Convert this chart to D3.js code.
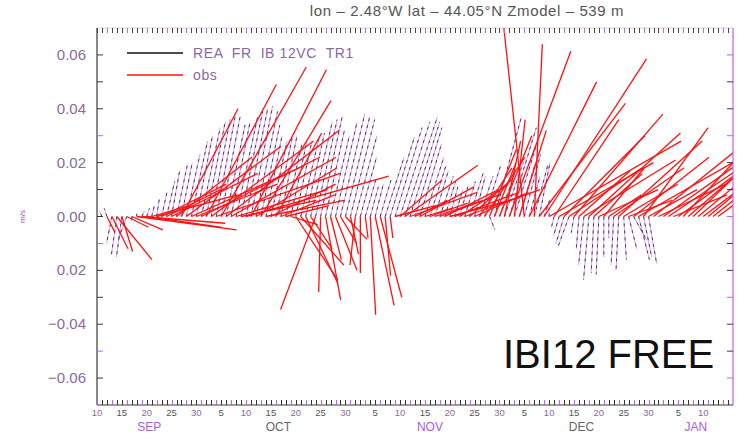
<!DOCTYPE html>
<html>
<head>
<meta charset="utf-8">
<script src="https://cdn.jsdelivr.net/npm/d3@7"></script>
<style>
body { margin: 0; background: #fff; }
svg { display: block; font-family: "Liberation Sans", Arial, sans-serif; }
</style>
</head>
<body>
<div id="chart"></div>
<script>
// ---- data (m/s, one stick per day) ----
var startDate = new Date(Date.UTC(2013, 8, 10));   // 10 Sep
var endDate = new Date(Date.UTC(2013, 8, 10 + 128)); // ~16 Jan

// model (REA FR IB 12VC TR1): first stick on day 1 after startDate
var modelFirstDay = 1;
var modelU = [-0.001,-0.001,-0.002,-0.002,-0.002,-0.003,0.000,0.000,0.001,0.001,
  0.001,0.001,0.002,0.003,0.003,0.004,0.004,0.005,0.006,0.006,
  0.007,0.007,0.007,0.007,0.007,0.007,0.007,0.008,0.008,0.008,
  0.008,0.008,0.007,0.006,0.006,0.006,0.006,0.006,0.006,0.006,
  0.007,0.007,0.008,0.008,0.008,0.007,0.007,0.008,0.009,0.009,
  0.009,0.008,0.006,0.004,0.003,0.003,0.004,0.007,0.009,0.010,
  0.011,0.012,0.011,0.010,0.008,0.007,0.006,0.005,0.005,0.004,
  0.003,0.003,0.003,0.004,0.005,0.004,0.005,0.006,0.002,0.010,
  0.006,0.007,0.010,0.008,0.006,0.006,0.004,0.005,0.004,0.002,
  0.000,-0.001,-0.002,-0.003,-0.004,-0.001,-0.001,-0.002,-0.002,-0.001,
  -0.001,0.000,0.000,-0.001,-0.001,0.001,0.003,0.005,0.004,0.003,0.003];
var modelV = [0.002,0.003,-0.010,-0.014,-0.015,-0.008,-0.002,0.001,0.002,0.003,
  0.004,0.0065,0.009,0.013,0.017,0.019,0.020,0.023,0.028,0.030,
  0.033,0.035,0.036,0.037,0.037,0.034,0.035,0.037,0.039,0.040,
  0.041,0.039,0.034,0.030,0.028,0.029,0.030,0.027,0.028,0.028,
  0.030,0.031,0.035,0.036,0.037,0.032,0.030,0.035,0.038,0.037,
  0.036,0.030,0.022,0.014,0.011,0.012,0.0135,0.022,0.0295,0.033,
  0.035,0.037,0.035,0.033,0.027,0.022,0.019,0.017,0.015,0.013,
  0.011,0.010,0.011,0.013,0.016,0.015,0.015,0.019,-0.005,0.037,
  0.017,0.020,0.033,0.026,0.020,0.023,0.015,0.019,0.020,0.006,
  0.003,-0.004,-0.007,-0.010,-0.011,-0.006,-0.012,-0.018,-0.0235,-0.021,
  -0.0215,-0.015,-0.008,-0.018,-0.020,-0.016,-0.012,-0.009,-0.016,-0.015,-0.0175];

// observations: first stick on day 2
var obsFirstDay = 2;
var obsU = [0.003,0.006,0.013,0.004,0.008,0.0115,0.037,0.031,0.028,
  0.014,0.030,0.024,0.020,0.032,0.028,0.021,0.035,0.040,0.030,
  0.044,0.026,0.038,0.046,0.0316,0.042,0.039,0.034,0.028,0.053,
  0.028,0.030,0.026,0.029,0.024,0.017,0.020,0.016,0.010,0.0156,
  0.016,0.012,0.008,-0.013,-0.0007,0.0056,0.004,0.008,0.006,0.008,
  0.003,-0.002,0.000,0.001,0.002,0.007,0.008,0.002,0.001,0.015,
  0.0156,0.027,0.025,0.012,0.020,0.010,0.014,0.018,0.022,0.020,
  0.026,0.024,0.018,0.028,0.016,0.020,0.012,0.015,0.010,0.008,
  0.012,0.006,0.0228,0.004,0.010,-0.0076,0.025,0.003,0.032,0.038,
  0.049,0.024,0.035,0.030,0.027,0.033,0.019,0.034,0.034,0.018,
  0.022,0.015,0.012,0.026,0.031,0.020,0.016,0.028,0.035,0.024,
  0.018,0.040,0.025,0.034,0.028,0.020,0.030,0.026,0.022,0.024,
  0.018,0.016,0.012,0.010,0.008];
var obsV = [-0.006,-0.012,-0.016,-0.013,-0.004,-0.005,-0.005,-0.0025,-0.004,
  0.004,0.008,0.012,0.010,0.016,0.022,0.040,0.026,0.018,0.012,
  0.022,0.049,0.028,0.016,0.0555,0.032,0.022,0.010,0.006,0.015,
  0.0545,0.018,0.043,0.006,0.012,0.031,0.008,0.004,-0.003,-0.0235,
  -0.018,-0.025,-0.012,-0.0345,-0.028,-0.031,-0.016,-0.020,-0.010,-0.0085,
  -0.014,-0.018,-0.021,-0.008,-0.0365,-0.033,-0.030,-0.022,-0.008,0.004,
  0.0136,0.019,0.009,0.006,0.011,0.003,0.005,0.006,0.008,0.010,
  0.007,0.009,0.012,0.010,0.014,0.009,0.018,0.022,0.025,0.020,
  0.030,0.028,0.0614,0.036,0.032,0.070,0.050,0.064,0.042,0.0585,
  0.028,0.036,0.020,0.030,0.018,0.038,0.017,0.021,0.031,0.016,
  0.010,0.018,0.008,0.018,0.028,0.012,0.006,0.022,0.020,0.033,
  0.010,0.032,0.012,0.024,0.019,0.008,0.022,0.028,0.019,0.023,
  0.015,0.012,0.010,0.008,0.006];

// axis labels
var yTickValues = [0.06, 0.04, 0.02, 0.00, -0.02, -0.04, -0.06];
var yTickLabels = ["0.06", "0.04", "0.02", "0.00", "0.02", "\u22120.04", "\u22120.06"];
var dayLabelDays = [5, 10, 15, 20, 25, 30];
var monthNames = ["JAN","FEB","MAR","APR","MAY","JUN","JUL","AUG","SEP","OCT","NOV","DEC"];
var legendNames = ["REA  FR  IB 12VC  TR1", "obs"];
var titleText = "lon \u2013 2.48\u00b0W  lat \u2013 44.05\u00b0N  Zmodel \u2013 539 m";
var stampText = "IBI12 FREE";

// ---- drawing ----
var W = 746, H = 436;
var PURPLE = "#c45cf5", TXT = "#8a6a9c", AX = "#3a3a3a";
var margin = {left: 97, right: 13, top: 28, bottom: 31};

var svg = d3.select("#chart").append("svg").attr("width", W).attr("height", H);

var x = d3.scaleUtc().domain([startDate, endDate]).range([margin.left, W - margin.right]);
var y = d3.scaleLinear().domain([-0.07, 0.07]).range([H - margin.bottom, margin.top]);

svg.append("clipPath").attr("id", "plot")
  .append("rect").attr("x", margin.left).attr("y", margin.top)
  .attr("width", W - margin.left - margin.right).attr("height", H - margin.top - margin.bottom);

function sticks(first, us, vs) {
  return us.map(function (u, i) {
    return {date: d3.utcDay.offset(startDate, first + i), u: u, v: vs[i]};
  });
}
var model = sticks(modelFirstDay, modelU, modelV);
var obs = sticks(obsFirstDay, obsU, obsV);

// same px per m/s in both directions
function tipX(d) { return x(d.date) + (y(0) - y(d.u)); }

var g = svg.append("g").attr("clip-path", "url(#plot)");

// model sticks: purple under black dashes
g.selectAll("line.mp").data(model).enter().append("line")
  .attr("x1", function (d) { return x(d.date); }).attr("y1", y(0))
  .attr("x2", tipX).attr("y2", function (d) { return y(d.v); })
  .attr("stroke", "#d590f8").attr("stroke-width", 0.9);
g.selectAll("line.mk").data(model).enter().append("line")
  .attr("x1", function (d) { return x(d.date); }).attr("y1", y(0))
  .attr("x2", tipX).attr("y2", function (d) { return y(d.v); })
  .attr("stroke", "#222").attr("stroke-width", 0.8).attr("stroke-dasharray", "3,4");

// obs sticks
g.selectAll("line.ob").data(obs).enter().append("line")
  .attr("x1", function (d) { return x(d.date); }).attr("y1", y(0))
  .attr("x2", tipX).attr("y2", function (d) { return y(d.v); })
  .attr("stroke", "#ff1010").attr("stroke-width", 1.3);

// frame
var x0 = margin.left, x1 = W - margin.right, yTop = margin.top, yBot = H - margin.bottom;
svg.append("line").attr("x1", x0).attr("x2", x0).attr("y1", yTop).attr("y2", yBot)
  .attr("stroke", AX).attr("stroke-width", 1.2);
svg.append("line").attr("x1", x1).attr("x2", x1).attr("y1", yTop).attr("y2", yBot)
  .attr("stroke", PURPLE).attr("stroke-width", 1.2);
svg.append("line").attr("x1", x0).attr("x2", x1).attr("y1", yBot).attr("y2", yBot)
  .attr("stroke", AX).attr("stroke-width", 1);
svg.append("line").attr("x1", x0).attr("x2", x1).attr("y1", yTop).attr("y2", yTop)
  .attr("stroke", "#bbb").attr("stroke-width", 0.6);

// y ticks on both sides, every 0.01
var yMinor = d3.range(-6, 7).map(function (k) { return k / 100; });
yMinor.forEach(function (v, i) {
  var c = (i % 4 === 1) ? PURPLE : AX;
  svg.append("line").attr("x1", x0).attr("x2", x0 + 6).attr("y1", y(v)).attr("y2", y(v))
    .attr("stroke", c).attr("stroke-width", 1);
  svg.append("line").attr("x1", x1 - 6).attr("x2", x1).attr("y1", y(v)).attr("y2", y(v))
    .attr("stroke", (i % 3 === 0) ? PURPLE : AX).attr("stroke-width", 1);
});
svg.selectAll("text.yl").data(yTickValues).enter().append("text")
  .attr("x", 86).attr("y", function (d) { return y(d) + 5; })
  .attr("text-anchor", "end").attr("font-size", 15).attr("fill", TXT)
  .text(function (d, i) { return yTickLabels[i]; });

svg.append("text").attr("transform", "translate(25," + y(0) + ") rotate(-90)")
  .attr("text-anchor", "middle").attr("font-size", 8).attr("fill", "#a050d0").text("m/s");

// day ticks top and bottom
var days = d3.utcDay.range(startDate, d3.utcDay.offset(endDate, 1));
days.forEach(function (d, i) {
  var xx = Math.round(x(d)) + 0.5;
  if (xx > x1) return;
  var c = (i % 3 === 0) ? PURPLE : "#333";
  svg.append("line").attr("x1", xx).attr("x2", xx).attr("y1", yBot).attr("y2", yBot - 5)
    .attr("stroke", c).attr("stroke-width", 1);
  svg.append("line").attr("x1", xx).attr("x2", xx).attr("y1", yTop).attr("y2", yTop + 5)
    .attr("stroke", (i % 4 === 2) ? PURPLE : "#444").attr("stroke-width", 1);
});

// day labels (none right at the right frame)
var labelDays = days.filter(function (d) {
  return (dayLabelDays.indexOf(d.getUTCDate()) >= 0 || +d === +startDate) && x(d) < x1 - 15;
});
svg.selectAll("text.dl").data(labelDays).enter().append("text")
  .attr("x", function (d) { return x(d); }).attr("y", 416)
  .attr("text-anchor", "middle").attr("font-size", 9.5)
  .attr("fill", function (d, i) { return i % 2 ? "#555" : TXT; })
  .text(function (d) { return d.getUTCDate(); });

// month labels centred on the visible part of each month
var months = d3.utcMonth.range(d3.utcMonth.floor(startDate), endDate);
svg.selectAll("text.ml").data(months).enter().append("text")
  .attr("x", function (m) {
    var a = m < startDate ? startDate : m;
    var b = d3.utcMonth.offset(m, 1);
    if (b > endDate) b = endDate;
    return (x(a) + x(b)) / 2;
  })
  .attr("y", 431).attr("text-anchor", "middle").attr("font-size", 12)
  .attr("fill", function (m, i) { return i % 2 ? "#666" : "#a860d8"; })
  .text(function (m) { return monthNames[m.getUTCMonth()]; });

// title
svg.append("text").attr("x", 467).attr("y", 16).attr("text-anchor", "middle")
  .attr("font-size", 15).attr("fill", "#555").attr("letter-spacing", 0.6).text(titleText);

// legend
var legendColors = ["#111", "#ff1010"];
legendNames.forEach(function (name, i) {
  var ly = 53 + i * 22;
  svg.append("line").attr("x1", 127).attr("x2", 183).attr("y1", ly).attr("y2", ly)
    .attr("stroke", legendColors[i]).attr("stroke-width", 1.5);
  svg.append("text").attr("x", 193).attr("y", ly + 5).attr("font-size", 14)
    .attr("fill", TXT).attr("xml:space", "preserve").style("white-space", "pre")
    .attr("letter-spacing", 0.6).text(name);
});

// stamp
svg.append("text").attr("x", 503).attr("y", 368).attr("font-size", 40)
  .attr("fill", "#111").text(stampText);
</script>
</body>
</html>
